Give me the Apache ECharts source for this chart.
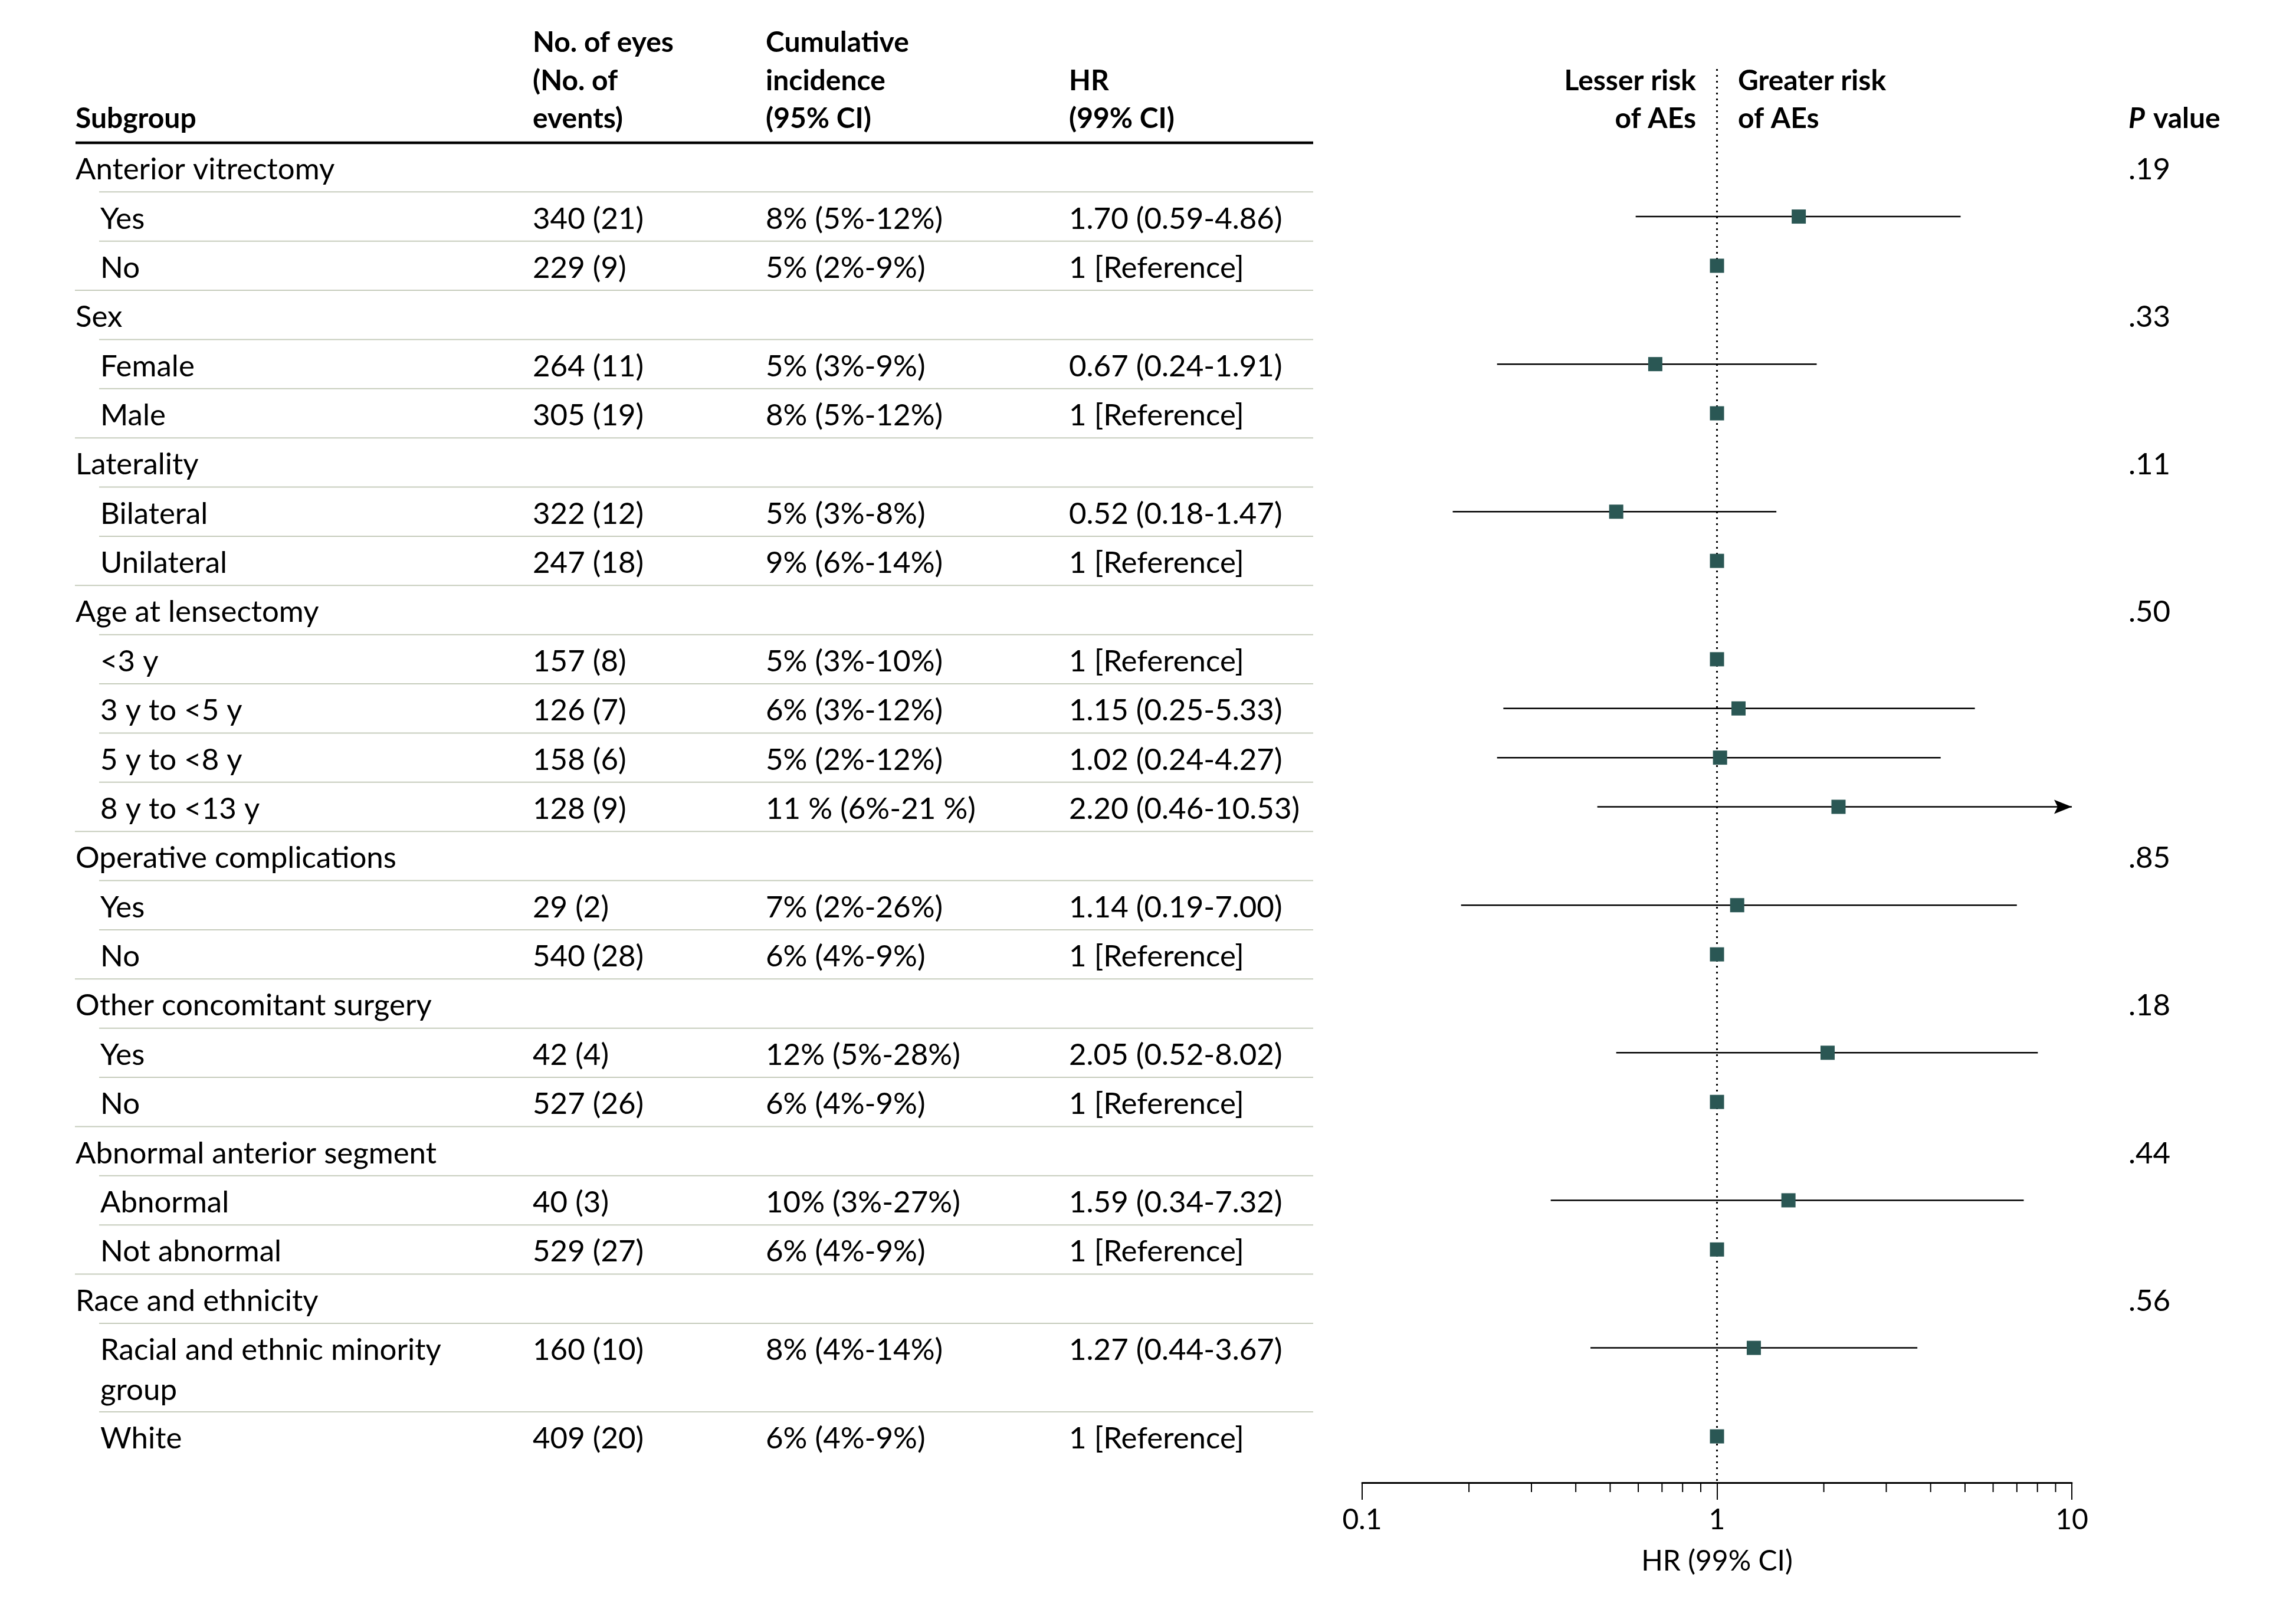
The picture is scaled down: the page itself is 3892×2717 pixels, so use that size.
<!DOCTYPE html>
<html><head><meta charset="utf-8">
<script src="https://cdn.jsdelivr.net/npm/echarts@6/dist/echarts.min.js"></script>
<style>html,body{margin:0;padding:0;background:#fff}#c{width:3892px;height:2717px}</style>
</head><body><div id="c"></div>
<script>
// ---------------- DATA ----------------
const subgroups = ['Anterior vitrectomy','Yes','No','Sex','Female','Male','Laterality','Bilateral','Unilateral',
  'Age at lensectomy','<3 y','3 y to <5 y','5 y to <8 y','8 y to <13 y','Operative complications','Yes','No',
  'Other concomitant surgery','Yes','No','Abnormal anterior segment','Abnormal','Not abnormal',
  'Race and ethnicity','Racial and ethnic minority\ngroup','White'];
const isGroupHeader = [1,0,0,1,0,0,1,0,0,1,0,0,0,0,1,0,0,1,0,0,1,0,0,1,0,0];
const eyesEvents = ['','340 (21)','229 (9)','','264 (11)','305 (19)','','322 (12)','247 (18)','',
  '157 (8)','126 (7)','158 (6)','128 (9)','','29 (2)','540 (28)','','42 (4)','527 (26)','',
  '40 (3)','529 (27)','','160 (10)','409 (20)'];
const cumIncidence = ['','8% (5%-12%)','5% (2%-9%)','','5% (3%-9%)','8% (5%-12%)','','5% (3%-8%)','9% (6%-14%)','',
  '5% (3%-10%)','6% (3%-12%)','5% (2%-12%)','11 % (6%-21 %)','','7% (2%-26%)','6% (4%-9%)','',
  '12% (5%-28%)','6% (4%-9%)','','10% (3%-27%)','6% (4%-9%)','','8% (4%-14%)','6% (4%-9%)'];
const hr     = [null,1.70,1,null,0.67,1,null,0.52,1,null,1,1.15,1.02,2.20,null,1.14,1,null,2.05,1,null,1.59,1,null,1.27,1];
const hrLow  = [null,0.59,null,null,0.24,null,null,0.18,null,null,null,0.25,0.24,0.46,null,0.19,null,null,0.52,null,null,0.34,null,null,0.44,null];
const hrHigh = [null,4.86,null,null,1.91,null,null,1.47,null,null,null,5.33,4.27,10.53,null,7.00,null,null,8.02,null,null,7.32,null,null,3.67,null];
const pValues = ['.19','','','.33','','','.11','','','.50','','','','','.85','','','.18','','','.44','','','.56','',''];
const xTicks = [0.1, 1, 10];
const xMinorTicks = [0.2,0.3,0.4,0.5,0.6,0.7,0.8,0.9,2,3,4,5,6,7,8,9];
const colHeaders = [
  ['Subgroup'],
  ['No. of eyes','(No. of','events)'],
  ['Cumulative','incidence','(95% CI)'],
  ['HR','(99% CI)']
];
const leftHeader = ['Lesser risk','of AEs'];
const rightHeader = ['Greater risk','of AEs'];

// ---------------- LAYOUT ----------------
const FONT = 'Lato';
const BODY_SIZE = 51, HEAD_SIZE = 48;
const TXT = '#000';
const COL_X = [128, 903, 1298, 1812];
const INDENT_X = 170;
const TABLE_RIGHT = 2226;
const RULE_Y = 242;
const ROW_H = 83.37, DOUBLE_ROW_H = 150, LINE2_DY = 68, TEXT_DY = 4;
const HEAD_LINE_Y = [73, 138, 202];
const P_X = 3608;
const GRID = {left: 2309, right: 380, top: 117, bottom: 204};
const H = 2717;
const AXIS_Y = H - GRID.bottom;
const X_MIN = 0.1, X_MAX = 10;

const rowTop = [0];
subgroups.forEach((s, i) => rowTop.push(rowTop[i] + (s.includes('\n') ? DOUBLE_ROW_H : ROW_H)));
const rowY = i => rowTop[i] + ROW_H / 2;   // y-axis value of row i
const Y_MIN = -(RULE_Y - GRID.top), Y_MAX = AXIS_Y - RULE_Y;

const ciData = [], pointData = [];
hr.forEach((v, i) => {
  if (v != null) pointData.push([v, rowY(i)]);
  if (hrLow[i] != null) ciData.push([hrLow[i], hrHigh[i], rowY(i)]);
});

const chart = echarts.init(document.getElementById('c'), null, {renderer: 'canvas'});
chart.setOption({
  animation: false,
  backgroundColor: '#fff',
  textStyle: {fontFamily: FONT},
  grid: GRID,
  xAxis: {
    type: 'log', logBase: 10, min: X_MIN, max: X_MAX, position: 'bottom',
    splitLine: {show: false},
    axisLine: {show: true, onZero: false, lineStyle: {color: '#000', width: 3}},
    axisTick: {show: true, length: 29, lineStyle: {color: '#000', width: 2}},
    axisLabel: {show: true, fontSize: 48, color: TXT, fontFamily: FONT, margin: 40,
      showMinLabel: true, showMaxLabel: true,
      formatter: v => String(+(+v).toPrecision(3))},
    name: 'HR (99% CI)', nameLocation: 'middle', nameGap: 110,
    nameTextStyle: {fontSize: 48, color: TXT, fontFamily: FONT}
  },
  yAxis: {type: 'value', min: Y_MIN, max: Y_MAX, inverse: true, show: false},
  series: [
    {
      type: 'custom', name: 'minor ticks', silent: true, z: 3,
      data: xMinorTicks.map(v => [v]),
      encode: {x: 0},
      renderItem: (params, api) => {
        const p = api.coord([api.value(0), Y_MAX]);
        return {type: 'line', shape: {x1: p[0], y1: p[1], x2: p[0], y2: p[1] + 16},
          style: {stroke: '#000', lineWidth: 2}};
      }
    },
    {
      type: 'custom', name: 'CI', silent: true, z: 4,
      data: ciData,
      encode: {x: [0, 1], y: 2},
      renderItem: (params, api) => {
        const lo = api.value(0), hi = api.value(1), y = api.value(2);
        const p1 = api.coord([lo, y]);
        const p2 = api.coord([Math.min(hi, X_MAX), y]);
        const children = [{type: 'line', shape: {x1: p1[0], y1: p1[1], x2: p2[0], y2: p2[1]},
          style: {stroke: '#000', lineWidth: 2.5}}];
        if (hi > X_MAX) {
          children.push({type: 'polygon', shape: {points: [
            [p2[0], p2[1]], [p2[0] - 30, p2[1] - 12], [p2[0] - 24, p2[1]], [p2[0] - 30, p2[1] + 12]]},
            style: {fill: '#000'}});
        }
        return {type: 'group', children};
      }
    },
    {
      type: 'scatter', name: 'HR', z: 5,
      data: pointData,
      symbol: 'rect', symbolSize: 24,
      itemStyle: {color: '#2a5754', opacity: 1},
      markLine: {
        silent: true, symbol: ['none', 'none'], label: {show: false},
        lineStyle: {color: '#000', width: 3, type: [3, 7]},
        data: [{xAxis: 1}]
      }
    }
  ]
});

// ---------------- TABLE (text & rules) ----------------
const yPix = v => chart.convertToPixel({yAxisIndex: 0}, v);
const g = [];
function txt(s, x, y, opt) {
  opt = opt || {};
  g.push({type: 'text', x: x, y: y, silent: true, z: 10,
    style: {text: s, fill: TXT,
      font: (opt.italic ? 'italic ' : '') + (opt.bold ? 'bold ' : '') + (opt.size || BODY_SIZE) + 'px ' + FONT,
      textAlign: opt.align || 'left', align: opt.align || 'left',
      textVerticalAlign: 'middle', verticalAlign: 'middle'}});
}
function hline(x1, x2, y, w, c) {
  g.push({type: 'line', silent: true, z: 9, shape: {x1: x1, y1: y, x2: x2, y2: y},
    style: {stroke: c, lineWidth: w}});
}
// headers
colHeaders.forEach((lines, c) => {
  const off = HEAD_LINE_Y.length - lines.length;
  lines.forEach((s, k) => txt(s, COL_X[c], HEAD_LINE_Y[off + k], {bold: true, size: HEAD_SIZE}));
});
leftHeader.forEach((s, k) => txt(s, 2875, HEAD_LINE_Y[1 + k], {bold: true, size: HEAD_SIZE, align: 'right'}));
rightHeader.forEach((s, k) => txt(s, 2946, HEAD_LINE_Y[1 + k], {bold: true, size: HEAD_SIZE}));
txt('P', P_X, HEAD_LINE_Y[2], {bold: true, italic: true, size: HEAD_SIZE});
txt('value', P_X + 42, HEAD_LINE_Y[2], {bold: true, size: HEAD_SIZE});
hline(128, TABLE_RIGHT, RULE_Y, 4.5, '#000');
// rows
subgroups.forEach((s, i) => {
  const y = yPix(rowY(i)) + TEXT_DY;
  s.split('\n').forEach((line, k) => txt(line, isGroupHeader[i] ? COL_X[0] : INDENT_X, y + k * LINE2_DY));
  if (eyesEvents[i]) txt(eyesEvents[i], COL_X[1], y);
  if (cumIncidence[i]) txt(cumIncidence[i], COL_X[2], y);
  if (hr[i] != null) {
    const t = hrLow[i] == null ? '1 [Reference]'
      : hr[i].toFixed(2) + ' (' + hrLow[i].toFixed(2) + '-' + hrHigh[i].toFixed(2) + ')';
    txt(t, COL_X[3], y);
  }
  if (pValues[i]) txt(pValues[i], P_X, y);
  if (i < subgroups.length - 1) {
    const sy = yPix(rowTop[i + 1]);
    hline(isGroupHeader[i + 1] ? 127 : 168, TABLE_RIGHT, sy, 2, '#c6ccbc');
  }
});
chart.setOption({graphic: {elements: g}});
</script>
</body></html>
